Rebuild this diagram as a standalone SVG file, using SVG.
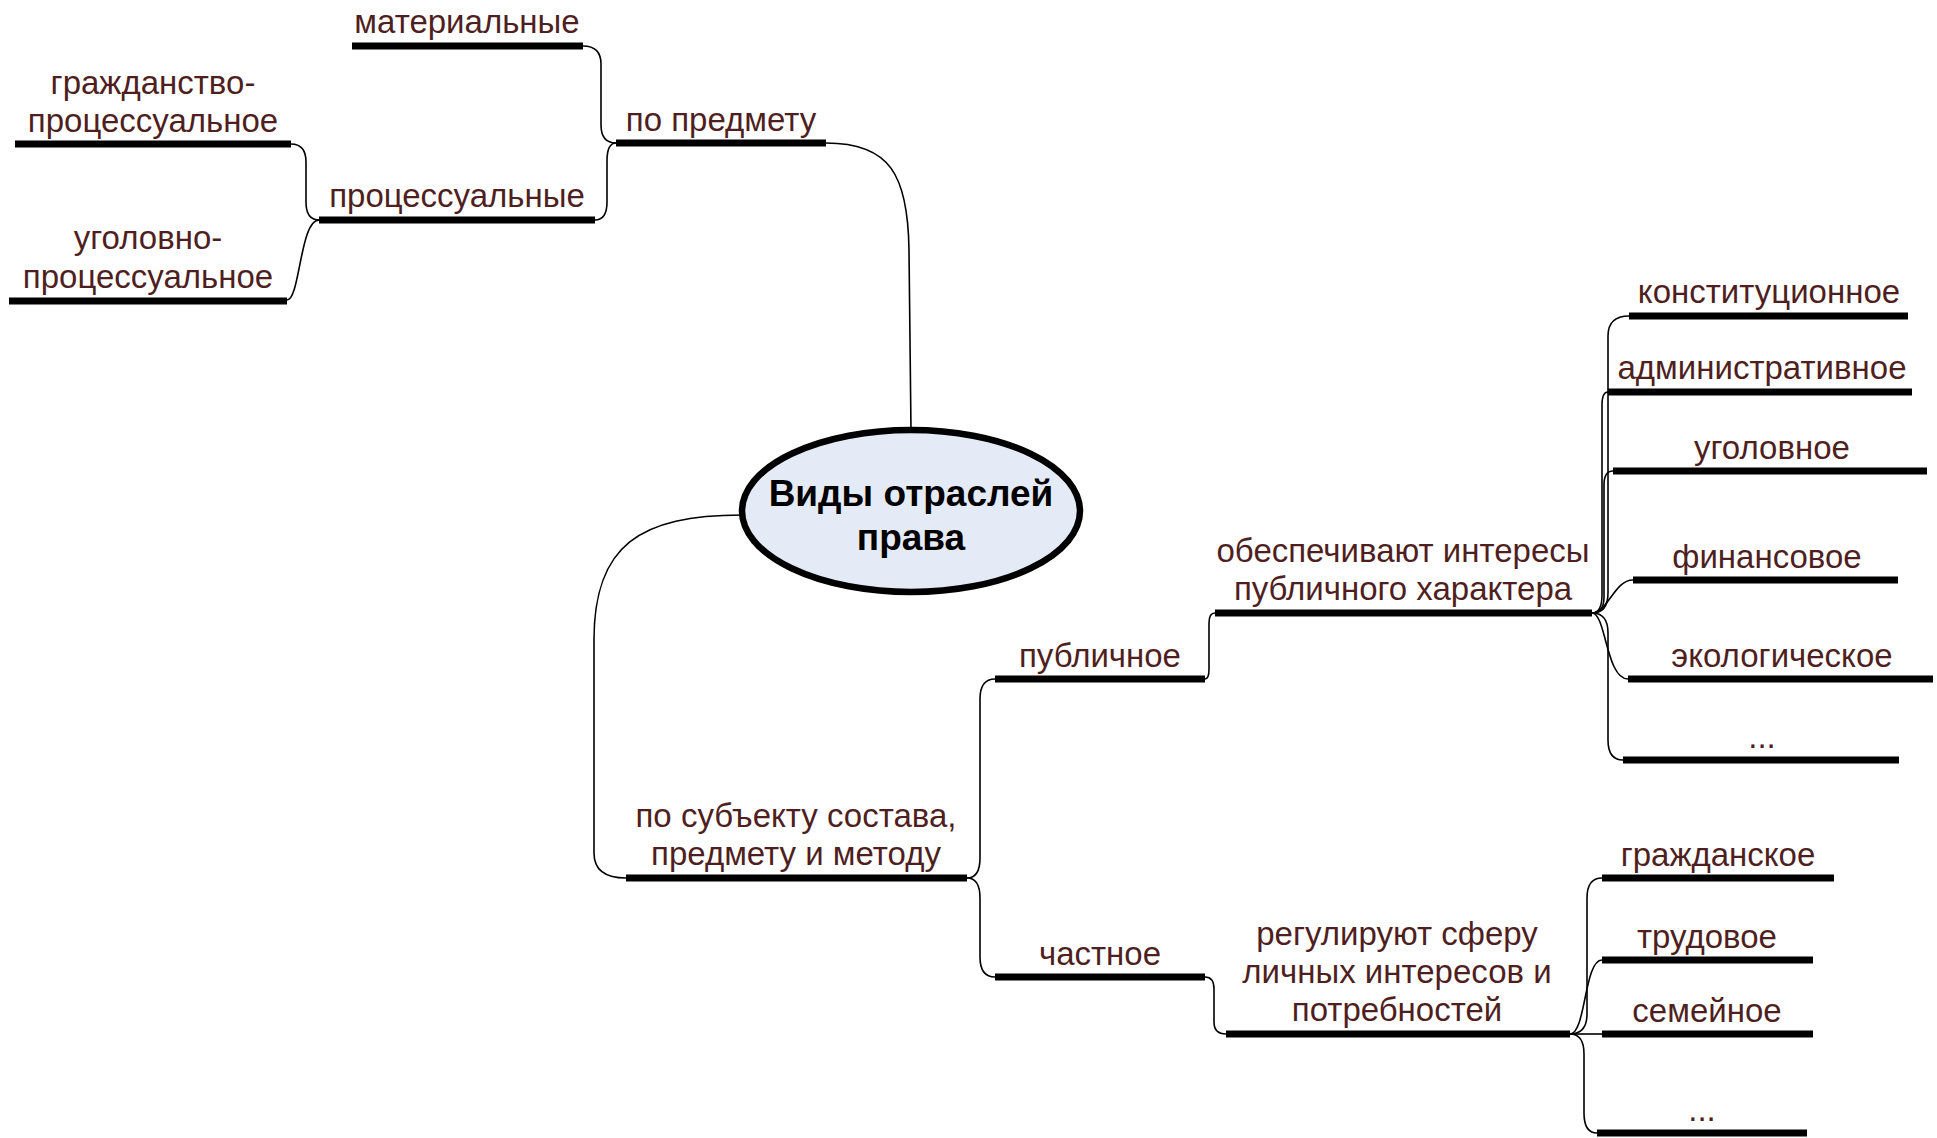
<svg xmlns="http://www.w3.org/2000/svg" width="1937" height="1138" viewBox="0 0 1937 1138">
<style>
.lbl{font-family:"Liberation Sans",Arial,sans-serif;font-size:33px;fill:#4f1f1f;text-anchor:middle}
.ttl{font-family:"Liberation Sans",Arial,sans-serif;font-size:37px;font-weight:bold;fill:#000;text-anchor:middle}
.ul{stroke:#000;stroke-width:7}
.cn{fill:none;stroke:#000;stroke-width:1.6}
</style>
<rect width="1937" height="1138" fill="#fff"/>
<g id="connectors">
<path class="cn" d="M583 46 Q601 46 601 64 L601 125 Q601 143 616 143"/>
<path class="cn" d="M595 220 Q607 220 607 202 L607 161 Q607 143 616 143"/>
<path class="cn" d="M826 143 C890 143 908 175 909 250 L911 431"/>
<path class="cn" d="M291 144 Q306 144 306 162 L306 202 Q306 220 319 220"/>
<path class="cn" d="M287 300 C300 300 300 220 319 220"/>
<path class="cn" d="M742 515 C640 515 594 545 594 640 L594 853 Q594 878 626 878"/>
<path class="cn" d="M967 878 Q980 878 980 858 L980 699 Q980 679 995 679"/>
<path class="cn" d="M967 878 Q980 878 980 898 L980 957 Q980 977 995 977"/>
<path class="cn" d="M1205 679 Q1209 679 1209 669 L1209 623 Q1209 613 1215 613"/>
<path class="cn" d="M1205 977 Q1214 977 1214 989 L1214 1022 Q1214 1034 1226 1034"/>
<path class="cn" d="M1592 613 Q1608 613 1608 593 L1608 336 Q1608 316 1629 316"/>
<path class="cn" d="M1592 613 Q1602 613 1602 595 L1602 405 Q1602 392 1608 392"/>
<path class="cn" d="M1592 613 Q1604 613 1604 597 L1604 485 Q1604 471 1613 471"/>
<path class="cn" d="M1592 613 C1608 613 1614 580 1633 580"/>
<path class="cn" d="M1592 613 C1606 613 1606 679 1628 679"/>
<path class="cn" d="M1592 613 Q1608 613 1608 633 L1608 740 Q1608 760 1623 760"/>
<path class="cn" d="M1570 1034 Q1587 1034 1587 1014 L1587 898 Q1587 878 1602 878"/>
<path class="cn" d="M1570 1034 C1586 1034 1584 960 1602 960"/>
<path class="cn" d="M1570 1034 L1602 1034"/>
<path class="cn" d="M1570 1034 Q1584 1034 1584 1054 L1584 1113 Q1584 1133 1597 1133"/>
</g>
<g id="root">
<ellipse cx="911" cy="511" rx="169" ry="81" fill="#e4ebf6" stroke="#000" stroke-width="6.5"/>
<text class="ttl" x="911" y="506">Виды отраслей</text>
<text class="ttl" x="911" y="550">права</text>
</g>
<g id="n-materialnye"><line class="ul" x1="352" y1="46" x2="583" y2="46"/><text class="lbl" x="467" y="33">материальные</text></g>
<g id="n-po-predmetu"><line class="ul" x1="616" y1="143" x2="826" y2="143"/><text class="lbl" x="721" y="131">по предмету</text></g>
<g id="n-processualnye"><line class="ul" x1="319" y1="220" x2="595" y2="220"/><text class="lbl" x="457" y="207">процессуальные</text></g>
<g id="n-grazhd-proc"><line class="ul" x1="15" y1="144" x2="291" y2="144"/><text class="lbl" x="153" y="94">гражданство-</text><text class="lbl" x="153" y="132">процессуальное</text></g>
<g id="n-ugol-proc"><line class="ul" x1="9" y1="301" x2="287" y2="301"/><text class="lbl" x="148" y="249">уголовно-</text><text class="lbl" x="148" y="288">процессуальное</text></g>
<g id="n-po-subjektu"><line class="ul" x1="626" y1="878" x2="967" y2="878"/><text class="lbl" x="796" y="827">по субъекту состава,</text><text class="lbl" x="796" y="865">предмету и методу</text></g>
<g id="n-publichnoe"><line class="ul" x1="995" y1="679" x2="1205" y2="679"/><text class="lbl" x="1100" y="667">публичное</text></g>
<g id="n-chastnoe"><line class="ul" x1="995" y1="977" x2="1205" y2="977"/><text class="lbl" x="1100" y="965">частное</text></g>
<g id="n-obespechivayut"><line class="ul" x1="1215" y1="613" x2="1592" y2="613"/><text class="lbl" x="1403" y="562">обеспечивают интересы</text><text class="lbl" x="1403" y="600">публичного характера</text></g>
<g id="n-reguliruyut"><line class="ul" x1="1226" y1="1034" x2="1570" y2="1034"/><text class="lbl" x="1397" y="945">регулируют сферу</text><text class="lbl" x="1397" y="983">личных интересов и</text><text class="lbl" x="1397" y="1021">потребностей</text></g>
<g id="n-konst"><line class="ul" x1="1629" y1="316" x2="1908" y2="316"/><text class="lbl" x="1769" y="303">конституционное</text></g>
<g id="n-admin"><line class="ul" x1="1608" y1="392" x2="1912" y2="392"/><text class="lbl" x="1762" y="379">административное</text></g>
<g id="n-ugolovnoe"><line class="ul" x1="1613" y1="471" x2="1927" y2="471"/><text class="lbl" x="1772" y="459">уголовное</text></g>
<g id="n-finans"><line class="ul" x1="1633" y1="580" x2="1898" y2="580"/><text class="lbl" x="1767" y="568">финансовое</text></g>
<g id="n-ekolog"><line class="ul" x1="1628" y1="679" x2="1933" y2="679"/><text class="lbl" x="1782" y="667">экологическое</text></g>
<g id="n-pub-etc"><line class="ul" x1="1623" y1="760" x2="1899" y2="760"/><text class="lbl" x="1762" y="748">...</text></g>
<g id="n-grazhdanskoe"><line class="ul" x1="1602" y1="878" x2="1834" y2="878"/><text class="lbl" x="1718" y="866">гражданское</text></g>
<g id="n-trudovoe"><line class="ul" x1="1602" y1="960" x2="1813" y2="960"/><text class="lbl" x="1707" y="948">трудовое</text></g>
<g id="n-semeynoe"><line class="ul" x1="1602" y1="1034" x2="1813" y2="1034"/><text class="lbl" x="1707" y="1022">семейное</text></g>
<g id="n-priv-etc"><line class="ul" x1="1597" y1="1133" x2="1807" y2="1133"/><text class="lbl" x="1702" y="1121">...</text></g>
</svg>
